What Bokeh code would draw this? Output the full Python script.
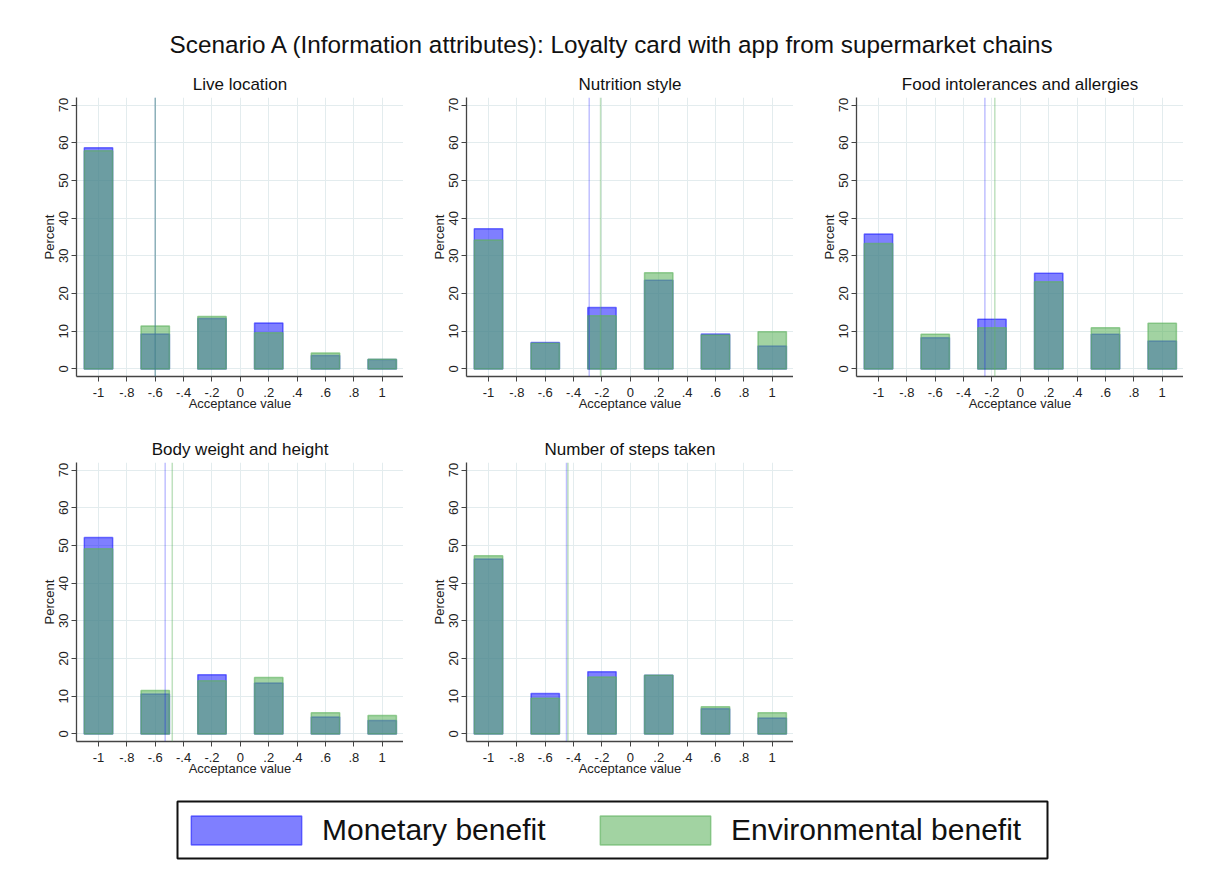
from bokeh.plotting import figure
from bokeh.models import Range1d, FixedTicker, Span, Legend, LegendItem
from bokeh.layouts import column, row
from bokeh.embed import file_html
from bokeh.resources import INLINE

# ---------------- data ----------------
main_title = "Scenario A (Information attributes): Loyalty card with app from supermarket chains"
acceptance = [-1, -0.6, -0.2, 0.2, 0.6, 1]
panel_titles = ["Live location", "Nutrition style", "Food intolerances and allergies",
                "Body weight and height", "Number of steps taken"]
series_names = ["Monetary benefit", "Environmental benefit"]

live_mon = [58.7, 9.3, 13.4, 12.2, 3.6, 2.5]
live_env = [57.9, 11.4, 13.9, 9.6, 4.2, 2.6]
nutr_mon = [37.2, 7.0, 16.3, 23.5, 9.3, 6.1]
nutr_env = [34.2, 6.8, 14.1, 25.5, 9.0, 9.9]
food_mon = [35.8, 8.3, 13.2, 25.4, 9.2, 7.4]
food_env = [33.3, 9.2, 10.9, 23.1, 10.9, 12.1]
body_mon = [52.1, 10.6, 15.7, 13.5, 4.5, 3.6]
body_env = [49.1, 11.5, 14.1, 15.0, 5.6, 4.9]
steps_mon = [46.4, 10.7, 16.5, 15.6, 6.7, 4.2]
steps_env = [47.3, 9.5, 15.1, 15.6, 7.2, 5.6]

mean_mon = [-0.60, -0.29, -0.25, -0.53, -0.45]
mean_env = [-0.60, -0.21, -0.18, -0.48, -0.44]

x_ticks = [-1, -0.8, -0.6, -0.4, -0.2, 0, 0.2, 0.4, 0.6, 0.8, 1]
x_tick_labels = ["-1", "-.8", "-.6", "-.4", "-.2", "0", ".2", ".4", ".6", ".8", "1"]
y_ticks = [0, 10, 20, 30, 40, 50, 60, 70]

mon_series = [live_mon, nutr_mon, food_mon, body_mon, steps_mon]
env_series = [live_env, nutr_env, food_env, body_env, steps_env]

# ---------------- style ----------------
FONT = "Liberation Sans"
BLUE = "#0000ff"
GREEN = "#5fb35f"
GRID = "#e3ecee"
AXIS = "#444444"


def style_bars(color, falpha, lalpha):
    return dict(fill_color=color, fill_alpha=falpha, line_color=color,
                line_alpha=lalpha, line_width=1.5)


BLUE_STYLE = style_bars(BLUE, 0.5, 0.5)
GREEN_STYLE = style_bars(GREEN, 0.58, 0.62)


def make_panel(i, first):
    p = figure(width=403 if first else 390, height=365,
               x_range=Range1d(-1.155, 1.15), y_range=Range1d(-2, 72),
               output_backend="svg", toolbar_location=None,
               min_border_left=76 if first else 63, min_border_right=0,
               min_border_top=35, min_border_bottom=51,
               background_fill_color="white", border_fill_color="white")
    p.outline_line_color = None
    p.title.text = panel_titles[i]
    p.title.align = "center"
    p.title.text_font = FONT
    p.title.text_font_size = "17px"
    p.title.text_font_style = "normal"
    p.title.text_color = "#111111"
    p.title.standoff = 7

    p.vbar(x=acceptance, top=mon_series[i], bottom=0, width=0.2, **BLUE_STYLE)
    p.vbar(x=acceptance, top=env_series[i], bottom=0, width=0.2, **GREEN_STYLE)

    p.add_layout(Span(location=mean_mon[i], dimension="height", line_color=BLUE,
                      line_alpha=0.25, line_width=1.5))
    p.add_layout(Span(location=mean_env[i], dimension="height", line_color=GREEN,
                      line_alpha=0.4, line_width=1.5))

    p.xaxis.ticker = FixedTicker(ticks=x_ticks)
    p.xaxis.major_label_overrides = {round(v, 1): lab for v, lab in zip(x_ticks, x_tick_labels)}
    p.yaxis.ticker = FixedTicker(ticks=y_ticks)
    p.yaxis.major_label_orientation = "vertical"
    p.xaxis.axis_label = "Acceptance value"
    p.yaxis.axis_label = "Percent"
    for ax in (p.xaxis, p.yaxis):
        ax.axis_line_color = AXIS
        ax.axis_line_width = 1.3
        ax.major_tick_line_color = AXIS
        ax.major_tick_out = 5
        ax.major_tick_in = 0
        ax.minor_tick_line_color = None
        ax.major_label_text_font = FONT
        ax.major_label_text_font_size = "13px"
        ax.major_label_text_color = "#222222"
        ax.axis_label_text_font = FONT
        ax.axis_label_text_font_size = "13px"
        ax.axis_label_text_font_style = "normal"
        ax.axis_label_text_color = "#222222"
    p.xaxis.major_label_standoff = 6
    p.xaxis.axis_label_standoff = -4
    p.yaxis.major_label_standoff = 3
    p.yaxis.axis_label_standoff = 0
    p.xgrid.grid_line_color = GRID
    p.ygrid.grid_line_color = GRID
    p.xgrid.grid_line_width = 1
    p.ygrid.grid_line_width = 1
    return p


panels = [make_panel(i, i in (0, 3)) for i in range(5)]

# overall title: a thin figure whose frame lines up with the legend box
tf = figure(width=1205, height=62, x_range=Range1d(0, 1), y_range=Range1d(0, 1),
            output_backend="svg", toolbar_location=None,
            min_border_left=177, min_border_right=158, min_border_top=59, min_border_bottom=0,
            x_axis_location=None, y_axis_location=None)
tf.outline_line_color = None
tf.grid.visible = False
tf.title.text = main_title
tf.title.align = "center"
tf.title.text_font = FONT
tf.title.text_font_size = "24.3px"
tf.title.text_font_style = "normal"
tf.title.text_color = "#111111"
tf.title.standoff = 4

# legend: the frame outline of this figure is the legend box
lf = figure(width=1205, height=88, x_range=Range1d(-1.2, 1.2), y_range=Range1d(0, 70),
            output_backend="svg", toolbar_location=None,
            min_border_left=177, min_border_right=158, min_border_top=9, min_border_bottom=22,
            x_axis_location=None, y_axis_location=None)
lf.outline_line_color = "#111111"
lf.outline_line_width = 2
lf.grid.visible = False
r1 = lf.vbar(x=acceptance, top=live_mon, bottom=0, width=0.2, **BLUE_STYLE)
r2 = lf.vbar(x=acceptance, top=live_env, bottom=0, width=0.2, **GREEN_STYLE)
r1.visible = False
r2.visible = False
legend = Legend(items=[LegendItem(label=series_names[0], renderers=[r1]),
                       LegendItem(label=series_names[1], renderers=[r2])],
                location=(0, 0), orientation="horizontal",
                glyph_width=138, glyph_height=36, label_standoff=7, spacing=0,
                padding=0, margin=0, label_height=57, label_width=264,
                label_text_font=FONT, label_text_font_size="30px", label_text_color="#111111",
                border_line_color=None, inactive_fill_alpha=0.0,
                background_fill_alpha=0.0)
lf.add_layout(legend)

layout = column(tf,
                row(panels[0], panels[1], panels[2]),
                row(panels[3], panels[4]),
                lf)

open("out.html", "w").write(file_html(layout, INLINE))
